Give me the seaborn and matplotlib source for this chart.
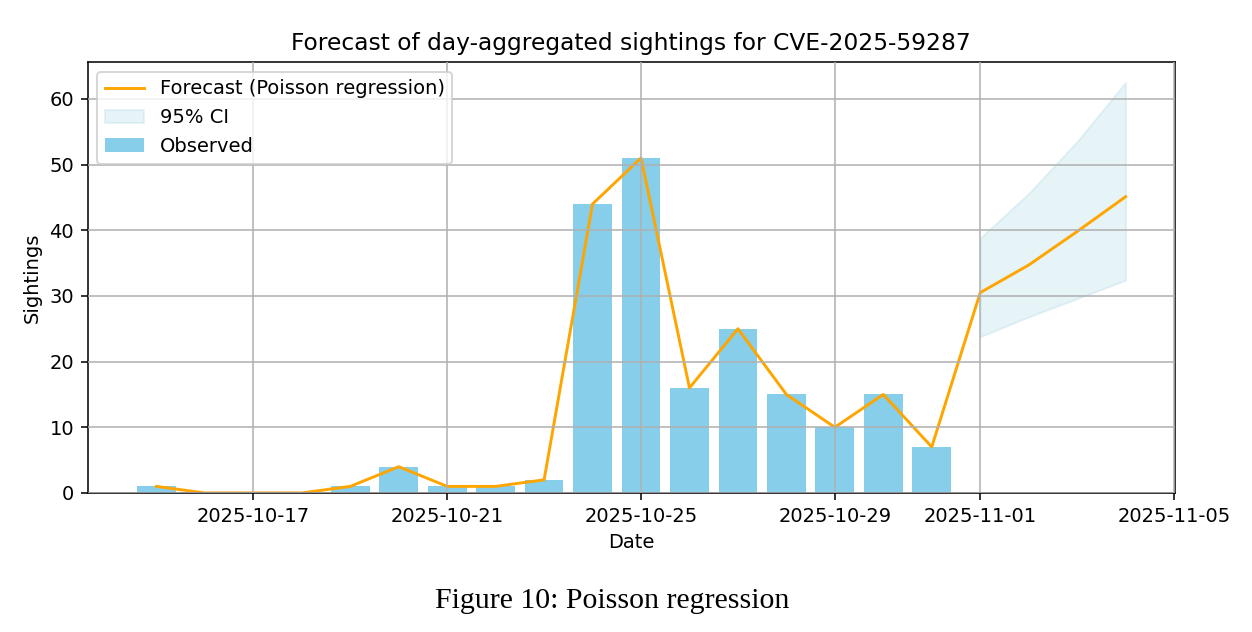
import numpy as np
import pandas as pd
import seaborn as sns
from matplotlib import pyplot as plt
import matplotlib.dates as mdates

# observed daily sightings
obs_dates = pd.date_range('2025-10-15', '2025-10-31', freq='D')
obs_counts = [1, 0, 0, 0, 1, 4, 1, 1, 2, 44, 51, 16, 25, 15, 10, 15, 7]

# forecast (in-sample fit + 4 days ahead)
fc_dates = pd.date_range('2025-10-15', '2025-11-04', freq='D')
fc_values = [1, 0, 0, 0, 1, 4, 1, 1, 2, 44, 51, 16, 25, 15, 10, 15, 7,
             30.5, 34.7, 39.8, 45.1]

# 95% CI for the future days
ci_dates = pd.date_range('2025-11-01', '2025-11-04', freq='D')
ci_lower = [23.8, 26.8, 29.6, 32.4]
ci_upper = [38.8, 45.6, 53.5, 62.5]

DPI = 140
fig = plt.figure(figsize=(1252 / DPI, 632 / DPI), dpi=DPI)
ax = fig.add_axes([0.070, 0.220, 0.8685, 0.682])

sns.lineplot(x=fc_dates, y=fc_values, color='orange', linewidth=1.5,
             label='Forecast (Poisson regression)', ax=ax)
ax.fill_between(ci_dates, ci_lower, ci_upper, color='lightblue', alpha=0.3,
                label='95% CI')
ax.bar(obs_dates, obs_counts, width=0.8, color='skyblue', label='Observed')

ax.set_title('Forecast of day-aggregated sightings for CVE-2025-59287', fontsize=12)
ax.set_xlabel('Date')
ax.set_ylabel('Sightings')
ax.grid(True)
ax.set_axisbelow(False)
ax.xaxis.set_major_locator(mdates.DayLocator(bymonthday=range(1, 32, 4)))
ax.xaxis.set_major_formatter(mdates.DateFormatter('%Y-%m-%d'))
ax.legend(loc='upper left', fontsize=10)

fig.text(0.489, 0.049, 'Figure 10: Poisson regression', ha='center', va='center',
         fontsize=15.4, family='Liberation Serif')

fig.savefig('out.png', dpi=DPI)
